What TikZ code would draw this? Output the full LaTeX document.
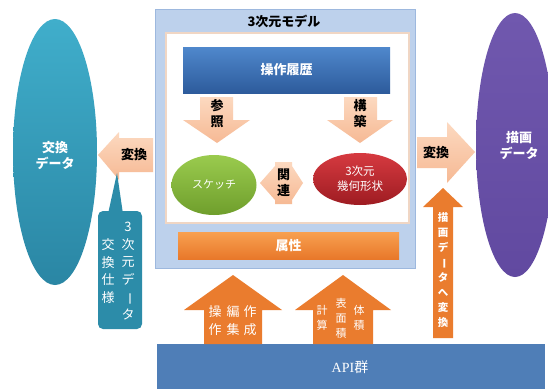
\documentclass[tikz,border=0pt]{standalone}
\usepackage{fontspec}
\usepackage{graphicx}
\setmainfont{Noto Sans CJK JP}
\newfontfamily\apiserif{Liberation Serif}
\usetikzlibrary{shapes.geometric}
\definecolor{tealA}{HTML}{40AECB}
\definecolor{tealB}{HTML}{2A86A4}
\definecolor{purpA}{HTML}{7058AE}
\definecolor{purpB}{HTML}{6149A0}
\definecolor{boxA}{HTML}{BDD1EC}
\definecolor{boxB}{HTML}{9DB8DE}
\definecolor{histA}{HTML}{4F88CC}
\definecolor{histB}{HTML}{2D5B9C}
\definecolor{peachA}{HTML}{FCD9C0}
\definecolor{peachB}{HTML}{F6B994}
\definecolor{orngA}{HTML}{F8A050}
\definecolor{orngB}{HTML}{E8782A}
\definecolor{grnA}{HTML}{9ACB4E}
\definecolor{grnB}{HTML}{6F9E2C}
\definecolor{rdA}{HTML}{D63A40}
\definecolor{rdB}{HTML}{9E1C22}
\definecolor{apiC}{HTML}{4F7EB7}
\definecolor{callC}{HTML}{2C8CA9}
\definecolor{innerB}{HTML}{F0D6C4}
\newcommand\vb{\rotatebox[origin=c]{-90}{ー}}
\begin{document}
\begin{tikzpicture}[x=1pt,y=-1pt,
  every node/.style={inner sep=0pt, outer sep=0pt},
  wtxt/.style={text=white, align=center, font=\fontsize{13}{16}\selectfont\bfseries},
  btxt/.style={text=black, align=center, font=\fontsize{13}{16}\selectfont\bfseries},
  peacharrow/.style={top color=peachA, bottom color=peachB, draw=none},
  uparrow/.style={fill=orngB!90!orngA, draw=none},
  vtxt/.style={text=white, align=center, font=\fontsize{12}{15.5}\selectfont}
]
\useasboundingbox (0,0) rectangle (548,389);
\fill[white] (0,0) rectangle (548,389);

% API bar
\node[rectangle, fill=apiC, minimum width=388pt, minimum height=45pt] (api) at (351,366.5) {};
\node[text=white, font=\fontsize{14}{16}\selectfont] (apit) at (350,367) {{\apiserif API}群};

% outer model box
\node[rectangle, draw=boxB, fill=boxA, line width=0.8pt, minimum width=260pt, minimum height=259pt] (model) at (285,138.5) {};
\node[btxt, font=\fontsize{13}{15}\selectfont\bfseries] (modelt) at (284,21) {3次元モデル};
\node[rectangle, draw=innerB, fill=white, line width=1.5pt, minimum width=243pt, minimum height=190pt] (inner) at (287.5,128) {};

% history bar
\node[rectangle, top color=histA, bottom color=histB, minimum width=207pt, minimum height=46pt] (hist) at (286.5,70) {};
\node[wtxt] (histt) at (286.5,70) {操作履歴};

% down arrows
\path[peacharrow] (200,97) -- (233,97) -- (233,120) -- (250,120) -- (217,143) -- (183,120) -- (200,120) -- cycle;
\node[btxt] (ref) at (217,114) {参\\照};
\path[peacharrow] (344,97) -- (377,97) -- (377,120) -- (393,120) -- (360,143) -- (327,120) -- (344,120) -- cycle;
\node[btxt] (con) at (360,114) {構\\築};

% ellipses
\node[ellipse, top color=grnA, bottom color=grnB, minimum width=85pt, minimum height=60pt] (sketch) at (214,185) {};
\node[wtxt, font=\fontsize{11}{14}\selectfont] at (sketch) {スケッチ};
\node[ellipse, top color=rdA, bottom color=rdB, minimum width=94pt, minimum height=52pt] (geom) at (360,179) {};
\node[wtxt, font=\fontsize{11.5}{15}\selectfont] at (geom) {3次元\\幾何形状};

% relation double arrow
\path[peacharrow] (275,162) -- (292,162) -- (292,166) -- (303,183) -- (292,200) -- (292,204) -- (275,204) -- (275,200) -- (260,183) -- (275,166) -- cycle;
\node[btxt] (rel) at (283.5,183) {関\\連};

% attribute bar
\node[rectangle, top color=orngA, bottom color=orngB, minimum width=221pt, minimum height=27pt] (attr) at (288.5,245.5) {};
\node[wtxt] (attrt) at (attr) {属性};

% left ellipse
\node[ellipse, top color=tealA, bottom color=tealB, minimum width=84pt, minimum height=266pt] (exch) at (55,152) {};
\node[wtxt] (excht) at (55,155) {交換\\データ};

% right ellipse
\node[ellipse, top color=purpA, bottom color=purpB, minimum width=78pt, minimum height=264pt] (draw) at (515,145) {};
\node[wtxt] (drawt) at (519,146) {描画\\データ};

% left conversion arrow
\path[peacharrow] (98,155) -- (119,132) -- (119,138) -- (153,138) -- (153,172) -- (119,172) -- (119,180) -- cycle;
\node[btxt] (convl) at (134,155) {変換};

% callout
\fill[callC, rounded corners=5pt] (98,211) rectangle (142,329);
\fill[callC] (108,214) -- (117,173) -- (123,214) -- cycle;
\node[vtxt, font=\fontsize{13}{17.6}\selectfont] (callR) at (128,271) {3\\次\\元\\デ\\\vb\\タ};
\node[vtxt, font=\fontsize{13}{17.6}\selectfont] (callL) at (108,271) {交\\換\\仕\\様};

% right conversion arrow
\path[peacharrow] (417,137) -- (447,137) -- (447,122) -- (475,152) -- (447,183) -- (447,168) -- (417,168) -- cycle;
\node[btxt] (convr) at (436,153) {変換};

% orange up arrow
\path[uparrow] (433,338) -- (433,207) -- (423,207) -- (443,188) -- (463,207) -- (453,207) -- (453,338) -- cycle;
\node[vtxt, font=\fontsize{10.5}{15}\selectfont\bfseries] (todraw) at (443,270) {描\\画\\デ\\\vb\\タ\\へ\\変\\換};

% up arrows from API
\path[uparrow] (204,344) -- (204,310) -- (184,310) -- (233,275) -- (282,310) -- (262,310) -- (262,344) -- cycle;
\node[vtxt, font=\fontsize{13}{18}\selectfont] (u1a) at (215,321) {操\\作};
\node[vtxt, font=\fontsize{13}{18}\selectfont] (u1b) at (233,321) {編\\集};
\node[vtxt, font=\fontsize{13}{18}\selectfont] (u1c) at (250,321) {作\\成};
\path[uparrow] (313,344) -- (313,310) -- (295,310) -- (343,275) -- (391,310) -- (373,310) -- (373,344) -- cycle;
\node[vtxt, font=\fontsize{11}{15}\selectfont] (u2a) at (322,318) {計\\算};
\node[vtxt, font=\fontsize{11}{15}\selectfont] (u2b) at (341,318) {表\\面\\積};
\node[vtxt, font=\fontsize{11}{15}\selectfont] (u2c) at (359,318) {体\\積};
\end{tikzpicture}
\end{document}
